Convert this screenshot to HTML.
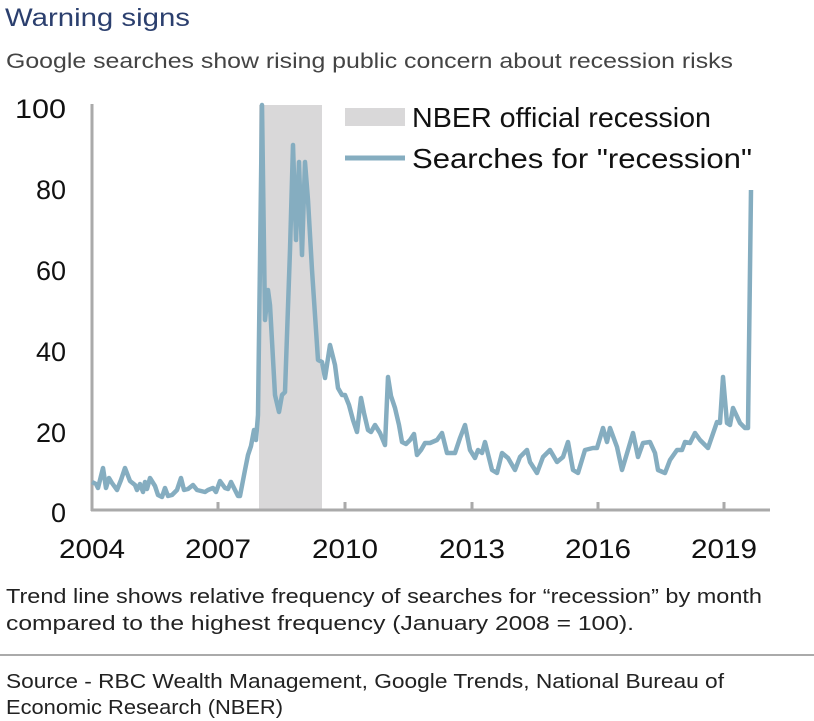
<!DOCTYPE html>
<html><head><meta charset="utf-8"><style>
body{margin:0;background:#fff;width:814px;height:721px;overflow:hidden;font-family:"Liberation Sans",sans-serif;}
</style></head><body>
<svg width="814" height="721" style="position:absolute;left:0;top:0" xmlns="http://www.w3.org/2000/svg" font-family="Liberation Sans, sans-serif">
<text x="5" y="26" font-size="25" fill="#2b3f6e" textLength="185" lengthAdjust="spacingAndGlyphs">Warning signs</text>
<text x="6" y="68" font-size="21" fill="#444" textLength="727" lengthAdjust="spacingAndGlyphs">Google searches show rising public concern about recession risks</text>
<rect x="259" y="105" width="63" height="405" fill="#d9d8d9"/>
<line x1="92" y1="104" x2="92" y2="511" stroke="#aaa" stroke-width="3"/>
<line x1="91" y1="510" x2="770" y2="510" stroke="#aaa" stroke-width="3"/>
<g stroke="#aaa" stroke-width="3">
<line x1="218" y1="510" x2="218" y2="502"/><line x1="345" y1="510" x2="345" y2="502"/><line x1="472" y1="510" x2="472" y2="502"/><line x1="598" y1="510" x2="598" y2="502"/><line x1="724" y1="510" x2="724" y2="502"/>
</g>
<polyline fill="none" stroke="#85adc0" stroke-width="4.5" stroke-linejoin="round" points="
92,482 96,484 98,488 103,468 106,488 109,478 112,483 117,490 121,480 125,468 130,481 135,485 137,490 140,484 143,492 145,482 147,489 150,478 155,486 158,495 162,497 165,488 168,496 172,495 177,490 181,478 184,490 188,489 193,485 197,490 201,491 205,492 208,490 213,488 216,492 220,481 225,488 228,489 231,482 235,490 238,496 240,496 245,470 248,455 251,446 254,430 256,440 258,415 262,105 265,320 268,290 270,305 275,395 279,412 282,395 285,392 290,250 293,145 296,240 299,162 302,255 305,162 308,200 312,270 318,360 322,362 325,378 330,345 335,365 338,388 342,395 345,395 349,405 353,420 357,432 361,398 364,413 368,430 371,432 375,425 380,433 385,445 388,377 391,396 395,408 399,425 402,442 406,444 410,440 414,434 417,455 421,450 425,443
430,443 437,440 442,433 447,453 455,453 460,438 465,425 470,450 475,458 478,450 482,453 485,442 492,470 497,473 502,453 508,458 515,470 520,457 527,450 530,462 537,473 543,457 550,450 557,462 563,457 568,442 573,470 578,473 585,450 593,448 597,448 603,428 607,442 610,428 617,447 622,470 628,450 633,433 638,457 643,443 650,442 655,453 658,470 665,473 670,460 677,450 682,450 685,442 690,443 695,433 700,440 708,448 717,422 720,423 723,377 727,423 730,425 733,408 740,423 745,428 748,428 751,190"/>
<rect x="345" y="108" width="60" height="18" fill="#d9d8d9"/>
<line x1="345" y1="158" x2="405" y2="158" stroke="#85adc0" stroke-width="5"/>
<g fill="#111" font-size="27">
<text x="15" y="118" textLength="51" lengthAdjust="spacingAndGlyphs">100</text>
<text x="66" y="199" text-anchor="end">80</text>
<text x="66" y="280" text-anchor="end">60</text>
<text x="66" y="361" text-anchor="end">40</text>
<text x="66" y="442" text-anchor="end">20</text>
<text x="66" y="522" text-anchor="end">0</text>
<text x="59" y="558" textLength="66" lengthAdjust="spacingAndGlyphs">2004</text>
<text x="185" y="558" textLength="66" lengthAdjust="spacingAndGlyphs">2007</text>
<text x="312" y="558" textLength="66" lengthAdjust="spacingAndGlyphs">2010</text>
<text x="439" y="558" textLength="66" lengthAdjust="spacingAndGlyphs">2013</text>
<text x="565" y="558" textLength="66" lengthAdjust="spacingAndGlyphs">2016</text>
<text x="691" y="558" textLength="66" lengthAdjust="spacingAndGlyphs">2019</text>
<text x="412" y="127" font-size="28" textLength="299" lengthAdjust="spacingAndGlyphs">NBER official recession</text>
<text x="412" y="168" font-size="28" textLength="340" lengthAdjust="spacingAndGlyphs">Searches for "recession"</text>
</g>
<g fill="#222" font-size="20">
<text x="6" y="603" textLength="756" lengthAdjust="spacingAndGlyphs">Trend line shows relative frequency of searches for “recession” by month</text>
<text x="6" y="630" textLength="628" lengthAdjust="spacingAndGlyphs">compared to the highest frequency (January 2008 = 100).</text>
<text x="6" y="688" textLength="718" lengthAdjust="spacingAndGlyphs">Source - RBC Wealth Management, Google Trends, National Bureau of</text>
<text x="6" y="714" textLength="277" lengthAdjust="spacingAndGlyphs">Economic Research (NBER)</text>
</g>
<line x1="0" y1="655" x2="814" y2="655" stroke="#555" stroke-width="1"/>
</svg>
</body></html>
